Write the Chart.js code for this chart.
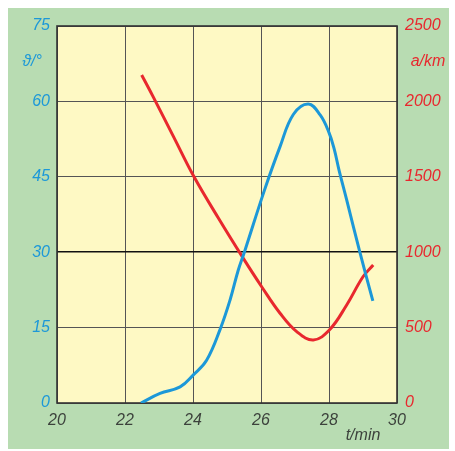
<!DOCTYPE html>
<html lang="de">
<head>
    <meta charset="utf-8" />
    <title>Temperatur und Entfernung</title>
    <script src="https://cdn.jsdelivr.net/npm/chart.js"></script>
    <style>
        html, body { margin: 0; padding: 0; background: #fff; }
        #chart { display: block; }
    </style>
</head>
<body>
    <canvas id="chart" width="455" height="451"></canvas>

    <script>
        const xTicks = [20, 22, 24, 26, 28, 30];
        const leftTicks = [0, 15, 30, 45, 60, 75];
        const rightTicks = [0, 500, 1000, 1500, 2000, 2500];

        const tTheta = [22.47, 23.03, 23.62, 24.01, 24.4, 24.8, 25.09, 25.33, 25.53, 26.1, 26.56, 26.95, 27.39, 27.74, 28.0, 28.15, 28.3, 28.52, 28.9, 29.29];
        const theta  = [0, 1.9, 3.2, 5.6, 8.5, 14.7, 20.5, 26.4, 30.4, 42.3, 51, 57.4, 59.5, 57.3, 53.8, 50.6, 46.2, 40.4, 30.2, 20.3];

        const tDist = [22.49, 22.83, 23.43, 24.03, 24.75, 25.48, 26.02, 26.56, 27.05, 27.54, 28.01, 28.52, 29.0, 29.3];
        const dist  = [2175, 2030, 1765, 1500, 1225, 959, 771, 595, 473, 418, 484, 650, 837, 915];

        const blue = 'rgb(28, 152, 216)';
        const red = 'rgb(232, 40, 46)';

        const toPoints = (xs, ys) => xs.map((x, i) => ({ x: x, y: ys[i] }));

        const frame = {
            id: 'frame',
            beforeDraw(chart) {
                const { ctx, chartArea: a } = chart;
                ctx.save();
                ctx.fillStyle = '#fff';
                ctx.fillRect(0, 0, chart.width, chart.height);
                ctx.fillStyle = 'rgb(184, 220, 178)';
                ctx.fillRect(8, 8, 441, 441);
                ctx.fillStyle = 'rgb(254, 249, 196)';
                ctx.fillRect(a.left, a.top, a.right - a.left, a.bottom - a.top);
                ctx.restore();
            },
            beforeDatasetsDraw(chart) {
                const { ctx, chartArea: a } = chart;
                ctx.save();
                ctx.strokeStyle = '#333';
                ctx.lineWidth = 1.6;
                ctx.strokeRect(a.left, a.top, a.right - a.left, a.bottom - a.top);
                ctx.restore();
            },
            afterDraw(chart) {
                const ctx = chart.ctx;
                ctx.save();
                ctx.font = 'italic 16px "Liberation Sans", Arial, sans-serif';
                ctx.textBaseline = 'middle';
                ctx.textAlign = 'center';
                ctx.fillStyle = blue;
                ctx.fillText('ϑ/°', 32, 62);
                ctx.fillStyle = red;
                ctx.fillText('a/km', 428, 62);
                ctx.fillStyle = 'rgb(60, 66, 60)';
                ctx.fillText('t/min', 363, 436);
                ctx.restore();
            }
        };

        const tickFont = { family: '"Liberation Sans", Arial, sans-serif', size: 16, style: 'italic' };
        const plain = v => String(v);

        new Chart(document.getElementById('chart'), {
            type: 'line',
            data: {
                datasets: [{
                    label: 'ϑ',
                    data: toPoints(tTheta, theta),
                    yAxisID: 'y',
                    borderColor: blue,
                    borderWidth: 3,
                    pointRadius: 0,
                    tension: 0.4,
                    fill: false
                }, {
                    label: 'a',
                    data: toPoints(tDist, dist),
                    yAxisID: 'y1',
                    borderColor: red,
                    borderWidth: 3,
                    pointRadius: 0,
                    tension: 0.4,
                    fill: false
                }]
            },
            options: {
                responsive: false,
                animation: false,
                layout: { padding: { top: 26, left: 0, right: 0, bottom: 0 } },
                plugins: { legend: { display: false }, tooltip: { enabled: false } },
                scales: {
                    x: {
                        type: 'linear',
                        min: 20,
                        max: 30,
                        afterBuildTicks: s => { s.ticks = xTicks.map(v => ({ value: v })); },
                        afterFit: s => { s.height = 48; },
                        grid: { color: '#555', lineWidth: 1, drawTicks: false },
                        border: { display: false },
                        ticks: { padding: 8, color: 'rgb(60, 66, 60)', font: tickFont, maxRotation: 0, callback: plain }
                    },
                    y: {
                        position: 'left',
                        min: 0,
                        max: 75,
                        afterBuildTicks: s => { s.ticks = leftTicks.map(v => ({ value: v })); },
                        afterFit: s => { s.width = 57; },
                        grid: {
                            drawTicks: false,
                            color: c => c.tick && c.tick.value === 30 ? '#111' : '#555',
                            lineWidth: c => c.tick && c.tick.value === 30 ? 1.6 : 1
                        },
                        border: { display: false },
                        ticks: { padding: 7, color: blue, font: tickFont, callback: plain }
                    },
                    y1: {
                        position: 'right',
                        min: 0,
                        max: 2500,
                        afterBuildTicks: s => { s.ticks = rightTicks.map(v => ({ value: v })); },
                        afterFit: s => { s.width = 58; },
                        grid: { display: false, drawTicks: false },
                        border: { display: false },
                        ticks: { padding: 8, color: red, font: tickFont, callback: plain }
                    }
                }
            },
            plugins: [frame]
        });
    </script>
</body>
</html>
